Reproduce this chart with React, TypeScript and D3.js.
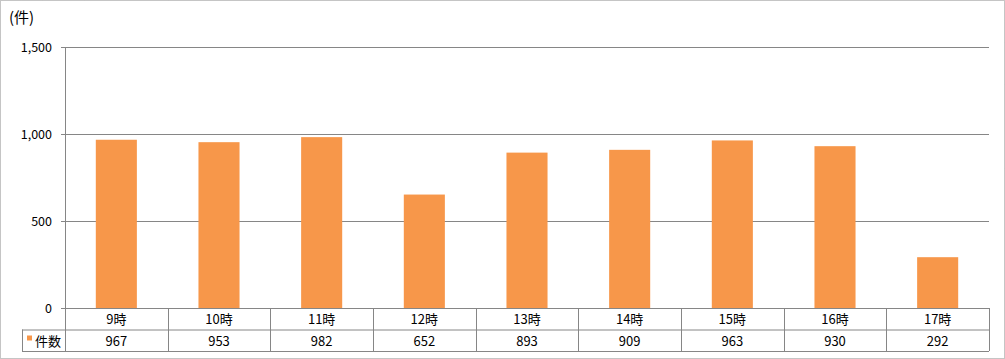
import React from "react";
import * as d3 from "d3";

const categories = ["9時", "10時", "11時", "12時", "13時", "14時", "15時", "16時", "17時"];
const values = [967, 953, 982, 652, 893, 909, 963, 930, 292];
const yTicks = [0, 500, 1000, 1500];
const seriesName = "件数";
const unitLabel = "(件)";

export default function App() {
  const W = 1005, H = 359;
  const left = 65, right = 989, top = 47, bottom = 308;
  const rowH = 21.5;
  const x = d3.scaleBand<string>().domain(categories).range([left, right]).paddingInner(0.6).paddingOuter(0.3);
  const xCell = d3.scaleBand<string>().domain(categories).range([left, right]);
  const y = d3.scaleLinear().domain([0, 1500]).range([bottom, top]);
  const fmt = d3.format(",");
  const font = "'MS PGothic','Noto Sans CJK JP',sans-serif";
  const grid = "#868686";
  const orange = "#F7974A";
  return (
    <div style={{ position: "absolute", left: 0, top: 0 }}>
      <svg width={W} height={H} style={{ display: "block" }} fontFamily={font}>
        <rect x={0.5} y={0.5} width={W - 1} height={H - 1} fill="#fff" stroke="#8a8a8a" strokeDasharray="1,1" />
        <text x={9} y={23} fontSize={15} fill="#000">{unitLabel}</text>
        {yTicks.map((t) => (
          <g key={t}>
            {t > 0 && <line x1={left} x2={right} y1={y(t) + 0.5} y2={y(t) + 0.5} stroke={grid} />}
            <line x1={61} x2={left} y1={y(t) + 0.5} y2={y(t) + 0.5} stroke={grid} />
            <text x={52} y={y(t) + 4.5} fontSize={12.5} textAnchor="end" fill="#000">{fmt(t)}</text>
          </g>
        ))}
        {categories.map((c, i) => (
          <rect key={c} x={x(c)} y={y(values[i])} width={x.bandwidth()} height={bottom - y(values[i])} fill={orange} />
        ))}
        <line x1={left + 0.5} x2={left + 0.5} y1={top} y2={bottom + 2 * rowH} stroke={grid} />
        {/* table */}
        <line x1={left} x2={right} y1={bottom + 0.5} y2={bottom + 0.5} stroke={grid} />
        <line x1={22} x2={right} y1={bottom + rowH + 0.5} y2={bottom + rowH + 0.5} stroke={grid} />
        <line x1={22} x2={right} y1={bottom + 2 * rowH + 0.5} y2={bottom + 2 * rowH + 0.5} stroke={grid} />
        <line x1={22.5} x2={22.5} y1={bottom + rowH} y2={bottom + 2 * rowH} stroke={grid} />
        {categories.map((c, i) => {
          const cx = (xCell(c) as number);
          return (
            <g key={c}>
              <line x1={Math.round(cx + xCell.bandwidth()) + 0.5} x2={Math.round(cx + xCell.bandwidth()) + 0.5} y1={bottom} y2={bottom + 2 * rowH} stroke={grid} />
              <text x={cx + xCell.bandwidth() / 2} y={bottom + 16} fontSize={13} textAnchor="middle" fill="#000">{c}</text>
              <text x={cx + xCell.bandwidth() / 2} y={bottom + rowH + 16} fontSize={13} textAnchor="middle" fill="#000">{values[i]}</text>
            </g>
          );
        })}
        <rect x={27} y={bottom + rowH + 6} width={5} height={5} fill={orange} />
        <text x={35} y={bottom + rowH + 16} fontSize={13} fill="#000">{seriesName}</text>
      </svg>
    </div>
  );
}
